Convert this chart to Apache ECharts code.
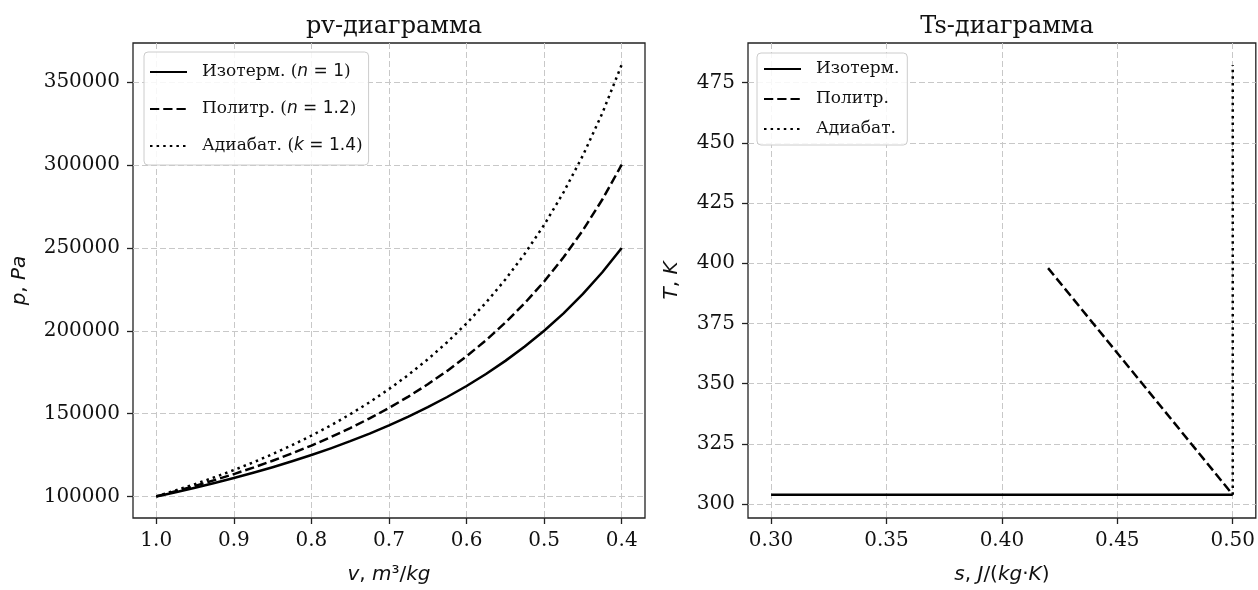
<!DOCTYPE html>
<html>
<head>
<meta charset="utf-8">
<script src="https://cdn.jsdelivr.net/npm/echarts@6/dist/echarts.min.js"></script>
<style>
  html, body { margin: 0; padding: 0; background: #fff; }
  #chart { width: 1258px; height: 590px; }
</style>
</head>
<body>
<div id="chart"></div>
<script>
// pv-diagram: specific volume (m^3/kg) and pressure (Pa) for three compression processes
const vValues = [1.0, 0.975, 0.95, 0.925, 0.9, 0.875, 0.85, 0.825, 0.8, 0.775, 0.75, 0.725, 0.7,
                 0.675, 0.65, 0.625, 0.6, 0.575, 0.55, 0.525, 0.5, 0.475, 0.45, 0.425, 0.4];
const pIsotherm = [100000, 102564, 105263, 108108, 111111, 114286, 117647, 121212, 125000, 129032,
                   133333, 137931, 142857, 148148, 153846, 160000, 166667, 173913, 181818, 190476,
                   200000, 210526, 222222, 235294, 250000];
const pPolytropic = [100000, 103085, 106349, 109807, 113477, 117379, 121534, 125967, 130705, 135780,
                     141230, 147094, 153420, 160264, 167689, 175770, 184595, 194267, 204911, 216675,
                     229740, 244325, 260703, 279211, 300281];
const pAdiabatic = [100000, 103608, 107445, 111533, 115894, 120556, 125549, 130908, 136670, 142882,
                    149594, 156865, 164764, 173370, 182777, 193094, 204451, 217003, 230936, 246477,
                    263902, 283550, 305846, 331326, 360675];

// Ts-diagram: entropy (J/(kg*K)) and temperature (K)
const sIsotherm = [0.30, 0.50];
const tIsotherm = [303.9, 303.9];
const sPolytropic = [0.42, 0.50];
const tPolytropic = [398, 303.9];
const sAdiabatic = [0.50, 0.50];
const tAdiabatic = [303.9, 482.4];

// tick labels
const pvTicksX = [1.0, 0.9, 0.8, 0.7, 0.6, 0.5, 0.4];
const pvTicksY = [100000, 150000, 200000, 250000, 300000, 350000];
const tsTicksX = [0.30, 0.35, 0.40, 0.45, 0.50];
const tsTicksY = [300, 325, 350, 375, 400, 425, 450, 475];

// legend entries
const pvNames = ['Изотерм. (n = 1)', 'Политр. (n = 1.2)', 'Адиабат. (k = 1.4)'];
const pvRich = [
  '{sp| }Изотерм. ({i|n}{m| = 1})',
  '{sp| }Политр. ({i|n}{m| = 1.2})',
  '{sp| }Адиабат. ({i|k}{m| = 1.4})'
];
const tsNames = ['Изотерм.', 'Политр.', 'Адиабат.'];

const SERIF = '"DejaVu Serif", serif';
const SANS = '"DejaVu Sans", sans-serif';
const INK = '#111';
const SPINE = '#222';

const dashStyles = ['solid', [9.25, 4], [2.5, 4.1]];

function zip(xs, ys) { return xs.map((x, i) => [x, ys[i]]); }

function axisCommon(ticks, fmt) {
  return {
    axisLine: { show: false },
    axisTick: { show: true, inside: false, length: 6, customValues: ticks,
                lineStyle: { color: SPINE, width: 1.3 } },
    axisLabel: { show: true, margin: 13, customValues: ticks, formatter: fmt,
                 color: INK, fontFamily: SERIF, fontSize: 20 },
    splitLine: { show: true, lineStyle: { color: '#c8c8c8', width: 1, type: [6, 3] } }
  };
}

const mathRich = {
  i: { fontFamily: SANS, fontStyle: 'italic', fontSize: 20, color: INK },
  r: { fontFamily: SANS, fontSize: 20, color: INK }
};

const legendRich = {
  sp: { width: 10, fontSize: 17 },
  i: { fontFamily: SANS, fontStyle: 'italic', fontSize: 17, color: INK, lineHeight: 22 },
  m: { fontFamily: SANS, fontSize: 17, color: INK, lineHeight: 22 }
};

function lineSeries(name, data, xi, yi, k) {
  return {
    name: name, type: 'line', data: data, xAxisIndex: xi, yAxisIndex: yi,
    symbol: 'none', showSymbol: false, smooth: false,
    lineStyle: { color: '#000', width: 2.5, type: dashStyles[k], cap: 'butt', join: 'round' },
    itemStyle: { color: '#000' },
    z: 3
  };
}

// legend handles are plain line samples, no marker
const hiddenMarker = { color: 'rgba(0,0,0,0)', borderWidth: 0, opacity: 0 };

const chart = echarts.init(document.getElementById('chart'), null, { renderer: 'canvas' });

const option = {
  animation: false,
  backgroundColor: '#fff',
  title: [
    { text: 'pv-диаграмма', left: 389, top: 10, textAlign: 'center',
      textStyle: { fontFamily: SERIF, fontSize: 24, fontWeight: 'normal', color: INK } },
    { text: 'Ts-диаграмма', left: 1002, top: 10, textAlign: 'center',
      textStyle: { fontFamily: SERIF, fontSize: 24, fontWeight: 'normal', color: INK } }
  ],
  grid: [
    { left: 133, top: 43, width: 512, height: 477, show: true,
      borderColor: SPINE, borderWidth: 1.3, backgroundColor: 'transparent' },
    { left: 748, top: 43, width: 509, height: 478, show: true,
      borderColor: SPINE, borderWidth: 1.3, backgroundColor: 'transparent' }
  ],
  xAxis: [
    Object.assign({ type: 'value', gridIndex: 0, min: 0.37, max: 1.03, inverse: true,
      name: '{i|v}{r|, }{i|m}{r|³/}{i|kg}', nameLocation: 'middle', nameGap: 47,
      nameTextStyle: { rich: mathRich } },
      axisCommon(pvTicksX, v => v.toFixed(1))),
    Object.assign({ type: 'value', gridIndex: 1, min: 0.29, max: 0.51,
      name: '{i|s}{r|, }{i|J}{r|/(}{i|kg}{r|·}{i|K}{r|)}', nameLocation: 'middle', nameGap: 47,
      nameTextStyle: { rich: mathRich } },
      axisCommon(tsTicksX, v => v.toFixed(2)))
  ],
  yAxis: [
    Object.assign({ type: 'value', gridIndex: 0, min: 86966, max: 373709,
      name: '{i|p}{r|, }{i|Pa}', nameLocation: 'middle', nameGap: 103,
      nameTextStyle: { rich: mathRich } },
      axisCommon(pvTicksY, v => String(Math.round(v)))),
    Object.assign({ type: 'value', gridIndex: 1, min: 294.2, max: 491.5,
      name: '{i|T}{r|, }{i|K}', nameLocation: 'middle', nameGap: 66,
      nameTextStyle: { rich: mathRich } },
      axisCommon(tsTicksY, v => String(Math.round(v))))
  ],
  legend: [
    {
      data: pvNames, orient: 'vertical', left: 144, top: 52,
      itemWidth: 37, itemHeight: 14, itemGap: 15,
      padding: [9, 6, 8, 5],
      backgroundColor: 'rgba(255,255,255,0.85)', borderColor: '#cccccc', borderWidth: 1, borderRadius: 4,
      selectedMode: false,
      itemStyle: hiddenMarker,
      formatter: name => pvRich[pvNames.indexOf(name)],
      textStyle: { fontFamily: SERIF, fontSize: 17, color: INK, lineHeight: 22, rich: legendRich }
    },
    {
      data: tsNames, orient: 'vertical', left: 757, top: 53,
      itemWidth: 37, itemHeight: 14, itemGap: 10,
      padding: [6, 8, 6, 6],
      backgroundColor: 'rgba(255,255,255,0.85)', borderColor: '#cccccc', borderWidth: 1, borderRadius: 4,
      selectedMode: false,
      itemStyle: hiddenMarker,
      formatter: name => '{sp| }' + name,
      textStyle: { fontFamily: SERIF, fontSize: 17, color: INK, lineHeight: 20, rich: legendRich }
    }
  ],
  series: [
    lineSeries(pvNames[0], zip(vValues, pIsotherm), 0, 0, 0),
    lineSeries(pvNames[1], zip(vValues, pPolytropic), 0, 0, 1),
    lineSeries(pvNames[2], zip(vValues, pAdiabatic), 0, 0, 2),
    lineSeries(tsNames[0], zip(sIsotherm, tIsotherm), 1, 1, 0),
    lineSeries(tsNames[1], zip(sPolytropic, tPolytropic), 1, 1, 1),
    lineSeries(tsNames[2], zip(sAdiabatic, tAdiabatic), 1, 1, 2)
  ]
};

chart.setOption(option);
</script>
</body>
</html>
